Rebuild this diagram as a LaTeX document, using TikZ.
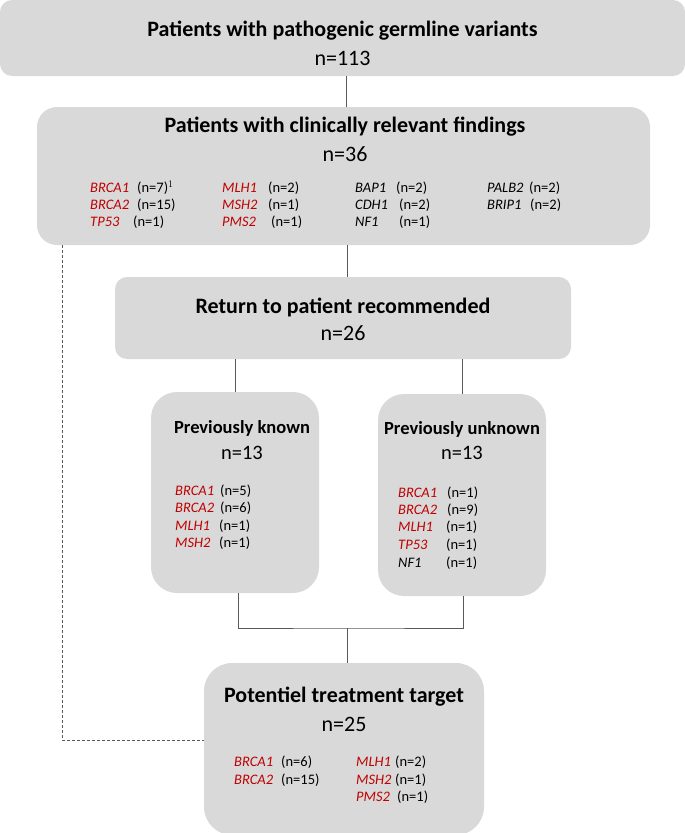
\documentclass[tikz,border=0pt]{standalone}
\usepackage{fontspec}
\setmainfont{Carlito}
\definecolor{boxgray}{HTML}{D9D9D9}
\definecolor{genered}{HTML}{C00000}
\definecolor{linegray}{HTML}{595959}
\newcommand\headfont{\fontsize{22}{25}\selectfont\bfseries}
\newcommand\subheadfont{\fontsize{18.5}{21}\selectfont\bfseries}
\newcommand\countfont{\fontsize{22}{25}\selectfont}
\newcommand\smallcountfont{\fontsize{20.5}{23}\selectfont}
\newcommand\genefont{\fontsize{14.5}{17}\selectfont}
\tikzset{
  box/.style={fill=boxgray, rounded corners=#1, inner sep=0pt},
  head/.style={font=\headfont, inner sep=0pt},
  subhead/.style={font=\subheadfont, inner sep=0pt},
  total/.style={font=\countfont, inner sep=0pt},
  subtotal/.style={font=\smallcountfont, inner sep=0pt},
  gene/.style={font=\genefont\itshape, anchor=west, inner sep=0pt},
  num/.style={font=\genefont, anchor=west, inner sep=0pt},
  link/.style={draw=linegray, line width=0.9pt}
}
\begin{document}
\begin{tikzpicture}[x=1pt,y=-1pt]
\useasboundingbox (0,0) rectangle (685,833);
% boxes
\node [box=12pt, minimum width=685pt, minimum height=76pt] (germ) at (342.5,38) {};
\node [box=20pt, minimum width=613pt, minimum height=138pt] (clin) at (343.5,176) {};
\node [box=12pt, minimum width=456pt, minimum height=82pt] (ret) at (343,318) {};
\node [box=26pt, minimum width=168pt, minimum height=201pt] (known) at (235,492.5) {};
\node [box=26pt, minimum width=168pt, minimum height=202pt] (unknown) at (462,495) {};
\node [box=28pt, minimum width=280pt, minimum height=172pt] (target) at (344,749) {};
% headings
\node [head] (germ-t) at (342.5,31) {Patients with pathogenic germline variants};
\node [total] (germ-n) at (342.5,58) {n=113};
\node [head] (clin-t) at (345,127) {Patients with clinically relevant findings};
\node [total] (clin-n) at (345,154) {n=36};
\node [head] (ret-t) at (343,307) {Return to patient recommended};
\node [total] (ret-n) at (343,333) {n=26};
\node [subhead] (known-t) at (242,428) {Previously known};
\node [subtotal] (known-n) at (242,453) {n=13};
\node [subhead] (unknown-t) at (462,429) {Previously unknown};
\node [subtotal] (unknown-n) at (462,453) {n=13};
\node [head] (target-t) at (344,697) {Potentiel treatment target};
\node [total] (target-n) at (344,724) {n=25};
% gene lists
\foreach \gx/\gy/\gname/\gcol/\nx/\ncount [count=\i] in {
  90/188/BRCA1/genered/137/{(n=7)$^{1}$},
  90/205/BRCA2/genered/137/(n=15),
  90/222/TP53/genered/133/(n=1),
  222/188/MLH1/genered/268/(n=2),
  222/205/MSH2/genered/268/(n=1),
  222/222/PMS2/genered/271/(n=1),
  355/188/BAP1/black/396/(n=2),
  355/205/CDH1/black/399/(n=2),
  355/222/NF1/black/399/(n=1),
  487/188/PALB2/black/529/(n=2),
  487/205/BRIP1/black/530/(n=2),
  175/491/BRCA1/genered/220/(n=5),
  175/508/BRCA2/genered/220/(n=6),
  175/526/MLH1/genered/219/(n=1),
  175/543/MSH2/genered/219/(n=1),
  398/493/BRCA1/genered/447/(n=1),
  398/510/BRCA2/genered/447/(n=9),
  398/527/MLH1/genered/446/(n=1),
  398/545/TP53/genered/446/(n=1),
  398/563/NF1/black/446/(n=1),
  234/762/BRCA1/genered/281/(n=6),
  234/780/BRCA2/genered/281/(n=15),
  356/762/MLH1/genered/395/(n=2),
  356/780/MSH2/genered/395/(n=1),
  356/797/PMS2/genered/397/(n=1)} {
  \node [gene, text=\gcol] (g\i) at (\gx,\gy) {\gname};
  \node [num] (n\i) at (\nx,\gy) {\ncount};
}
% connectors
\coordinate (join) at (347,628);
\coordinate (dash-out) at (62,245);
\coordinate (dash-in) at (204,740);
\draw [link] (clin.north -| 346,0) -- (germ.south -| 346,0);
\draw [link] (clin.south -| 347,0) -- (ret.north -| 347,0);
\draw [link] (ret.south -| known.north) -- (known.north);
\draw [link] (ret.south -| unknown.north) -- (unknown.north);
\draw [link] (known.south -| 238,0) |- (join) -| (unknown.south -| 463,0);
\draw [link] (join) -- (join |- target.north);
\draw [link, dash pattern=on 3pt off 2pt, line width=0.7pt] (dash-out) |- (dash-in);
\end{tikzpicture}
\end{document}
